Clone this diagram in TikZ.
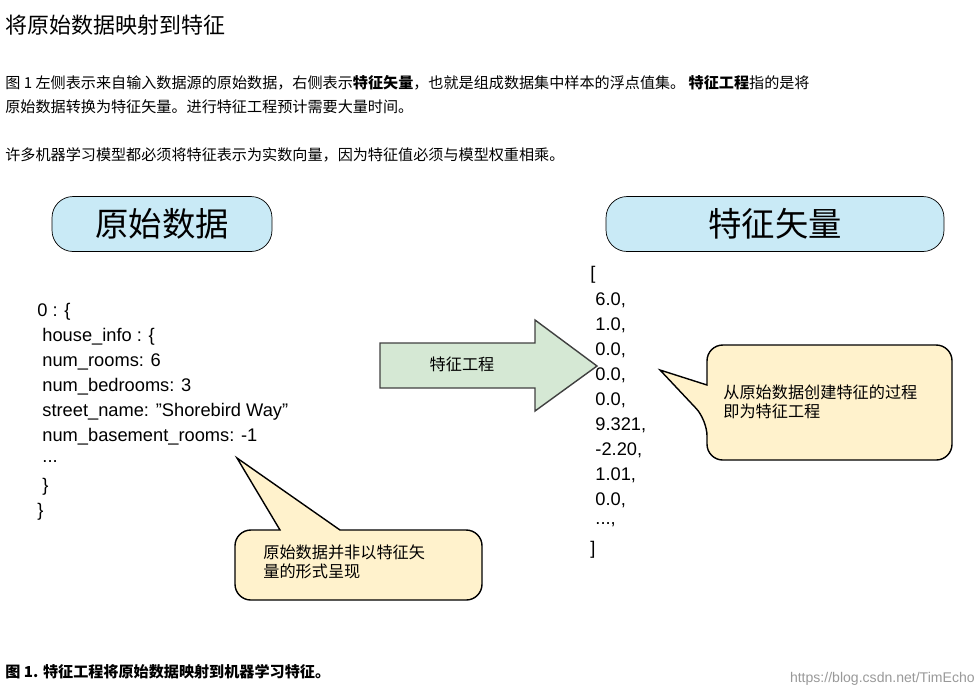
\documentclass[tikz,border=0pt]{standalone}
\usepackage{fontspec}
\setmainfont{Liberation Sans}
\newfontfamily\cjk{Noto Sans CJK SC}
\usetikzlibrary{positioning, calc}

\definecolor{boxblue}{HTML}{C9EAF6}
\definecolor{arrowgreen}{HTML}{D5E8D4}
\definecolor{noteyellow}{HTML}{FFF2CC}
\newcommand{\threedots}{.\kern0pt.\kern0pt.}
\tikzset{
    headbox/.style={draw, rounded corners=12pt, fill=boxblue, minimum width=4.4cm, minimum height=1.1cm, font=\cjk\fontsize{19}{19}\selectfont},
    para/.style={anchor=west, inner sep=0pt, font=\cjk\fontsize{8.6}{10}\selectfont},
    code/.style={anchor=west, inner sep=0pt, font=\fontsize{10.4}{12}\selectfont},
    note/.style={draw, fill=noteyellow, rounded corners=9pt, thick},
    notetext/.style={anchor=north west, inner sep=0pt, align=left, font=\cjk\fontsize{9.2}{11}\selectfont}
}

\begin{document}
\begin{tikzpicture}[x=0.02cm, y=-0.02cm]
                    \useasboundingbox (0, 0) rectangle (979, 698);

                    \node[anchor=west, inner sep=0pt, font=\cjk\fontsize{12.5}{14}\selectfont] (title) at (5, 25) {将原始数据映射到特征};

                    \node[para] (p1) at (5, 83) {图 1 左侧表示来自输入数据源的原始数据，右侧表示\textbf{特征矢量}，也就是组成数据集中样本的浮点值集。 \textbf{特征工程}指的是将};
                    \node[para] (p2) at (5, 107) {原始数据转换为特征矢量。进行特征工程预计需要大量时间。};
                    \node[para] (p3) at (5, 155) {许多机器学习模型都必须将特征表示为实数向量，因为特征值必须与模型权重相乘。};

                    \node[headbox] (raw) at (162, 224) {原始数据};
                    \node[headbox, minimum width=6.76cm] (vec) at (775, 224) {特征矢量};

                    % json
                    \foreach \txt [count=\i from 0] in {{0 : \{}, {\ house\_info : \{}, {\ num\_rooms: 6}, {\ num\_bedrooms: 3}, {\ street\_name: "Shorebird Way"}, {\ num\_basement\_rooms: -1}, {\ \threedots}, {\ \}}, {\}}}
                        \node[code] (json\i) at (37, 312 + 25*\i) {\txt};

                    % vector
                    \foreach \txt [count=\i from 0] in {{[}, {\ 6.0,}, {\ 1.0,}, {\ 0.0,}, {\ 0.0,}, {\ 0.0,}, {\ 9.321,}, {\ -2.20,}, {\ 1.01,}, {\ 0.0,}, {\ \threedots,}, {]}}
                        \node[code] (vec\i) at (590, 275 + 25*\i) {\txt};

                    % arrow
                    \draw[fill=arrowgreen, draw=black!75, thick]
                    (380, 343) -- (535, 343) -- (535, 320) -- (597, 366) -- (535, 411) -- (535, 388) -- (380, 388) -- cycle;
                    \node[font=\cjk\fontsize{9.2}{11}\selectfont] (fe) at (462, 364) {特征工程};

                    % notes
                    \coordinate (tipr) at (660, 370);
                    \draw[note] (707, 345) -- (952, 345) -- (952, 460) -- (707, 460) -- (707, 420)
                    [sharp corners] -- (tipr) -- (707, 385) [rounded corners=9pt] -- cycle;
                    \node[notetext] (noter) at (723, 384) {从原始数据创建特征的过程\\即为特征工程};

                    \coordinate (tipb) at (237, 458);
                    \draw[note] (235, 530) [sharp corners] -- (280, 530) -- (tipb) -- (340, 530)
                    [rounded corners=9pt] -- (482, 530) -- (482, 600) -- (235, 600) -- cycle;
                    \node[notetext] (noteb) at (263, 544) {原始数据并非以特征矢\\量的形式呈现};

                    \node[para, font=\cjk\bfseries\fontsize{8.6}{10}\selectfont] (cap) at (5, 672) {图 1. 特征工程将原始数据映射到机器学习特征。};
                    \node[anchor=east, inner sep=0pt, text=black!40, font=\fontsize{8}{9}\selectfont] (mark) at (975, 679) {https://blog.csdn.net/TimEcho};
\end{tikzpicture}
\end{document}
